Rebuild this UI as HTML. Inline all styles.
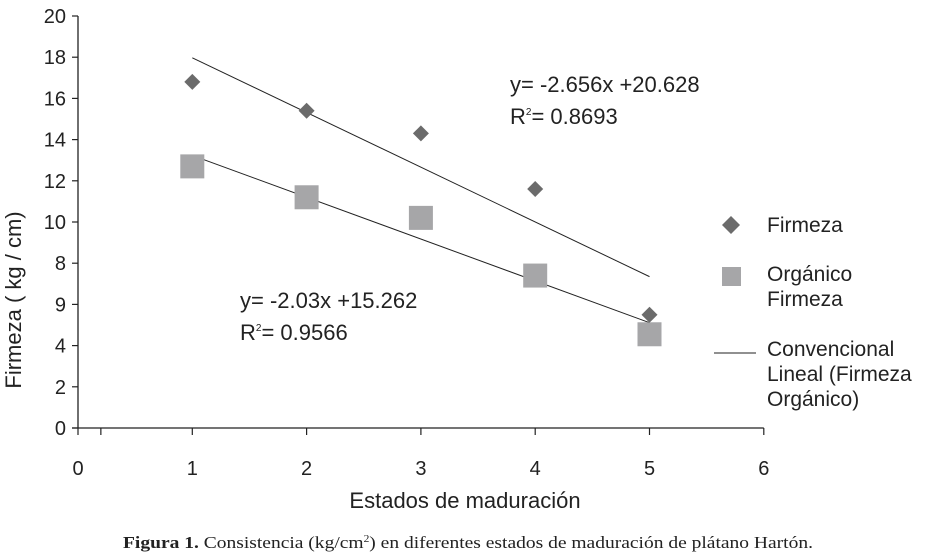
<!DOCTYPE html>
<html><head><meta charset="utf-8"><style>
body{margin:0;background:#fff;width:929px;height:554px;overflow:hidden}
svg text{font-family:"Liberation Sans",sans-serif;fill:#222}
</style></head><body>
<svg id="chart" width="929" height="554" xmlns="http://www.w3.org/2000/svg">
<g id="axes"></g>
<g id="marks"></g>
<text x="0" y="0" font-size="22" text-anchor="middle" transform="translate(21,300) rotate(-90)">Firmeza ( kg / cm)</text>
<text x="465" y="508" font-size="22" text-anchor="middle">Estados de maduración</text>
<text x="510" y="92" font-size="22">y= -2.656x +20.628</text>
<text x="510" y="124" font-size="22">R<tspan font-size="10" dy="-9">2</tspan><tspan dy="9">= 0.8693</tspan></text>
<text x="240" y="308" font-size="22">y= -2.03x +15.262</text>
<text x="240" y="340" font-size="22">R<tspan font-size="10" dy="-9">2</tspan><tspan dy="9">= 0.9566</tspan></text>
<g>
<path d="M731 216 L740 225 L731 234 L722 225Z" fill="#6b6b6b"/>
<text x="767" y="232" font-size="21">Firmeza</text>
<rect x="722" y="267" width="19" height="19" fill="#a6a6a8"/>
<text x="767" y="281" font-size="21">Orgánico</text>
<text x="767" y="306" font-size="21">Firmeza</text>
<line x1="714" y1="353" x2="756" y2="353" stroke="#222" stroke-width="1"/>
<text x="767" y="356" font-size="21">Convencional</text>
<text x="767" y="381" font-size="21">Lineal (Firmeza</text>
<text x="767" y="406" font-size="21">Orgánico)</text>
</g>
<text x="123" y="548" font-size="17" textLength="690" lengthAdjust="spacingAndGlyphs" style="font-family:'Liberation Serif',serif"><tspan font-weight="bold">Figura 1.</tspan> Consistencia (kg/cm<tspan font-size="10" dy="-6">2</tspan><tspan dy="6">) en diferentes estados de maduración de plátano Hartón.</tspan></text>
</svg>
<script>
const categories=[1,2,3,4,5];
const firmeza=[16.8,15.4,14.3,11.6,5.5];
const organico=[12.7,11.2,10.2,7.4,4.55];
const trendFirmeza=[-2.656,20.628];
const trendOrganico=[-2.03,15.262];
const yTicks=[0,2,4,6,8,10,12,14,16,18,20];
const yTickLabels=["0","2","4","9","8","10","12","14","16","18","20"];
const xTicks=[0,1,2,3,4,5,6];
const NS="http://www.w3.org/2000/svg";
const X=v=>78+v*114.3, Y=v=>428-v*20.6;
function mk(tag,attrs,parent){const e=document.createElementNS(NS,tag);for(const k in attrs)e.setAttribute(k,attrs[k]);parent.appendChild(e);return e;}
const ax=document.getElementById('axes'), mg=document.getElementById('marks');
let l=mk('line',{x1:78,y1:Y(20),x2:78,y2:428,stroke:'#222','stroke-width':1.3},ax);


l=mk('line',{x1:72,y1:428,x2:X(6),y2:428,stroke:'#222','stroke-width':1.3},ax);


yTicks.forEach((v,i)=>{
 const t=mk('line',{x1:72,y1:Y(v),x2:78,y2:Y(v),stroke:'#222','stroke-width':1.2},ax);
 
 
 const tx=mk('text',{x:66,y:Y(v)+7,'font-size':20,'text-anchor':'end'},ax);
 tx.textContent=yTickLabels[i];
 
 
});
xTicks.concat([0.2]).forEach(v=>{
 const t=mk('line',{x1:X(v),y1:428,x2:X(v),y2:435,stroke:'#222','stroke-width':1.2},ax);
 
 
});
xTicks.forEach(v=>{
 const tx=mk('text',{x:X(v),y:475,'font-size':20,'text-anchor':'middle'},ax);
 tx.textContent=String(v);
 
 
});
[trendFirmeza,trendOrganico].forEach((c,i)=>{
 const a=categories[0],b=categories[categories.length-1];
 const t=mk('line',{x1:X(a),y1:Y(c[0]*a+c[1]),x2:X(b),y2:Y(c[0]*b+c[1]),stroke:'#222','stroke-width':1},mg);
 
 
});
organico.forEach((v,i)=>{
 const cx=X(categories[i]),cy=Y(v);
 const r=mk('rect',{x:cx-12,y:cy-12,width:24,height:24,fill:'#a6a6a8'},mg);
 
 
});
firmeza.forEach((v,i)=>{
 const cx=X(categories[i]),cy=Y(v);
 const p=mk('path',{d:`M${cx} ${cy-8}L${cx+8} ${cy}L${cx} ${cy+8}L${cx-8} ${cy}Z`,fill:'#6b6b6b'},mg);
 
 
});
</script>
</body></html>
